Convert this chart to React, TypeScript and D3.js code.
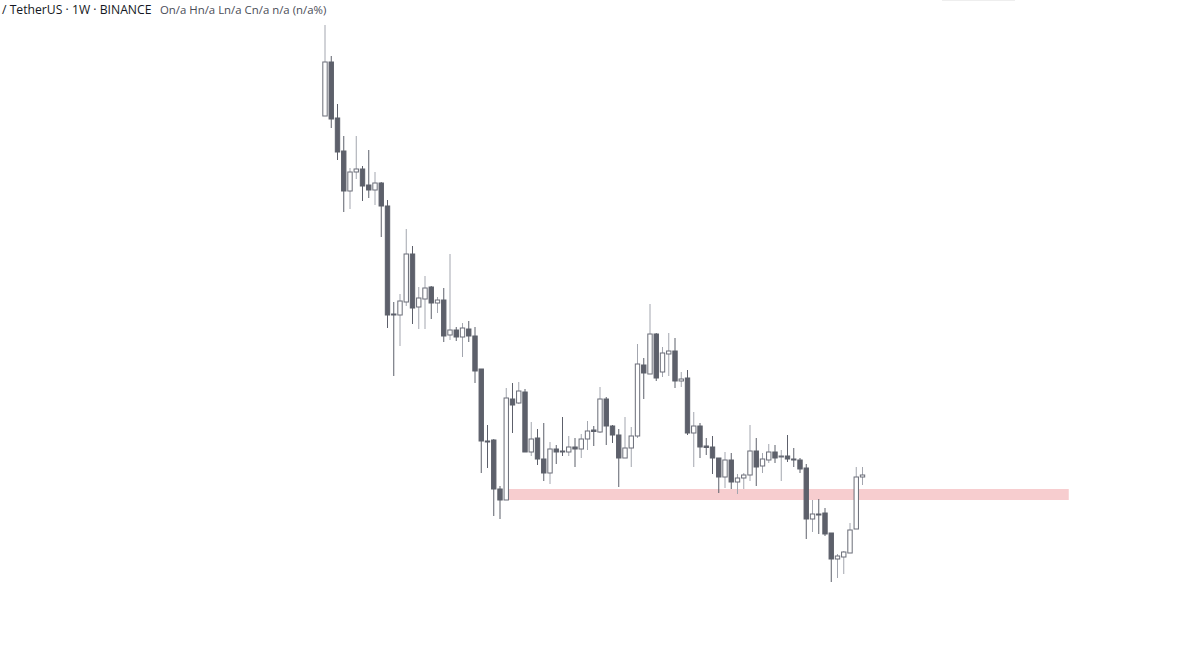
import React, { useRef, useEffect } from "react";
import * as d3 from "d3";

// weekly candles, arbitrary price units
const opens = [
  534, 588, 532, 499, 459, 478, 481, 465, 460, 467, 444, 336, 335, 348, 396, 343, 351, 363, 347, 350,
  315, 320, 313, 321, 314, 281, 209, 210, 161, 150, 251, 247, 258, 198, 212, 191, 177, 201, 199, 198,
  203, 201, 211, 220, 218, 251, 224, 215, 192, 202, 214, 285, 276, 316, 278, 296, 299, 269, 272, 217,
  224, 204, 203, 192, 173, 190, 168, 172, 175, 199, 184, 190, 198, 193, 194, 191, 190, 182, 131, 136,
  137, 117, 91, 93, 97, 121, 173,
];
const highs = [
  625, 594, 546, 514, 482, 514, 484, 500, 478, 468, 450, 348, 356, 421, 404, 363, 374, 364, 353, 362,
  396, 323, 327, 329, 323, 281, 225, 211, 164, 262, 267, 268, 261, 228, 221, 227, 208, 205, 233, 214,
  212, 216, 229, 224, 263, 253, 225, 221, 233, 223, 306, 292, 346, 317, 303, 317, 312, 278, 280, 238,
  227, 212, 214, 192, 198, 197, 176, 177, 225, 212, 197, 206, 205, 200, 215, 202, 192, 186, 150, 151,
  142, 117, 96, 99, 127, 183, 183,
];
const lows = [
  534, 522, 490, 438, 441, 471, 449, 452, 445, 413, 322, 274, 304, 344, 326, 321, 321, 331, 337, 308,
  310, 309, 293, 308, 267, 177, 182, 134, 131, 150, 217, 246, 198, 194, 185, 169, 166, 186, 194, 194,
  183, 192, 200, 204, 217, 205, 207, 163, 192, 183, 212, 251, 276, 269, 273, 274, 262, 263, 215, 183,
  192, 195, 176, 157, 162, 161, 156, 161, 169, 164, 177, 187, 187, 169, 188, 183, 177, 111, 118, 116,
  114, 68, 72, 76, 97, 121, 165,
];
const closes = [
  588, 531, 498, 459, 478, 481, 464, 460, 467, 444, 335, 335, 349, 396, 342, 352, 362, 347, 350, 314,
  320, 313, 322, 314, 279, 209, 208, 161, 150, 252, 245, 259, 198, 211, 191, 177, 201, 198, 198, 203,
  201, 211, 219, 218.5, 251, 224, 215, 192, 202, 214, 286, 277, 316, 272, 297, 299, 269, 271, 217, 224,
  203, 202.5, 192, 173, 190, 168, 172, 175, 199, 183, 191, 198, 192, 194, 191, 190, 181, 131, 136, 135,
  116, 91, 94, 98, 120, 173, 175,
];

// highlighted zone
const zoneTop = 161;
const zoneBottom = 150;
const zoneFrom = 29;
const zoneTo = 119;

const symbolTitle = "/ TetherUS · 1W · BINANCE";
const ohlcLegend = "On/a Hn/a Ln/a Cn/a n/a (n/a%)";

export default function App() {
  const ref = useRef<SVGSVGElement>(null);

  useEffect(() => {
    const width = 1200;
    const height = 648;
    const candles = opens.map((o, i) => ({ i, o, h: highs[i], l: lows[i], c: closes[i] }));

    const x = d3.scaleLinear().domain([-52, 140]).range([0, width]);
    const y = d3.scaleLinear().domain([0, 650]).range([650, 0]);
    const bw = (x(1) - x(0)) * 0.7;

    const svg = d3.select(ref.current);
    svg.selectAll("*").remove();

    svg
      .append("rect")
      .attr("width", width)
      .attr("height", height)
      .attr("fill", "#ffffff");

    svg
      .append("rect")
      .attr("x", x(zoneFrom))
      .attr("y", y(zoneTop))
      .attr("width", x(zoneTo) - x(zoneFrom))
      .attr("height", y(zoneBottom) - y(zoneTop))
      .attr("fill", "#f7cdcf");

    const g = svg.append("g");
    const candle = g
      .selectAll("g")
      .data(candles)
      .join("g");

    candle
      .append("line")
      .attr("x1", (d) => x(d.i))
      .attr("x2", (d) => x(d.i))
      .attr("y1", (d) => y(d.h))
      .attr("y2", (d) => y(d.l))
      .attr("stroke", (d) => (d.c >= d.o ? "#a3a6af" : "#5d606b"))
      .attr("stroke-width", 1);

    candle
      .append("rect")
      .attr("x", (d) => x(d.i) - bw / 2)
      .attr("y", (d) => y(Math.max(d.o, d.c)))
      .attr("width", bw)
      .attr("height", (d) => Math.max(1, Math.abs(y(d.o) - y(d.c))))
      .attr("fill", (d) => (d.c >= d.o ? "#ffffff" : "#5d606b"))
      .attr("stroke", (d) => (d.c >= d.o ? "#6a6d78" : "#5d606b"))
      .attr("stroke-width", 1);

    svg
      .append("rect")
      .attr("x", 942)
      .attr("y", 0)
      .attr("width", 73)
      .attr("height", 1)
      .attr("fill", "#eeeeee");

    svg
      .append("text")
      .attr("x", 2)
      .attr("y", 14)
      .attr("font-family", "'Open Sans', sans-serif")
      .attr("font-size", 12.2)
      .attr("fill", "#131722")
      .text(symbolTitle);

    svg
      .append("text")
      .attr("x", 160)
      .attr("y", 14)
      .attr("font-family", "'Open Sans', sans-serif")
      .attr("font-size", 11.4)
      .attr("fill", "#4a4d57")
      .text(ohlcLegend);
  }, []);

  return (
    <svg
      ref={ref}
      width={1200}
      height={648}
      style={{ position: "fixed", left: 0, top: 0, display: "block" }}
    />
  );
}
